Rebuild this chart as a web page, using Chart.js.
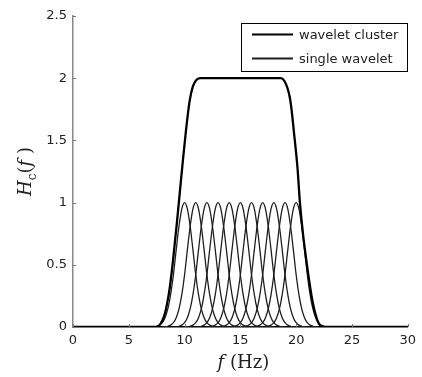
<!DOCTYPE html>
<html>
<head>
<meta charset="utf-8">
<script src="https://cdn.jsdelivr.net/npm/chart.js@4/dist/chart.umd.min.js"></script>
<style>
  html, body { margin: 0; padding: 0; background: #fff; }
  #c { display: block; }
</style>
</head>
<body>
<canvas id="c" width="422" height="377"></canvas>
<script>
// ---- Data ----
const seriesLabels = ['wavelet cluster', 'single wavelet'];

// Centres of the single wavelets (Hz)
const waveletCenters = [10, 11, 12, 13, 14, 15, 16, 17, 18, 19, 20];

// Single-wavelet profile: offset from centre (Hz) and height
const profileOffsets = [-3, -2.75, -2.5, -2.25, -2, -1.75, -1.5, -1.25, -1, -0.75, -0.5, -0.25, 0,
                        0.25, 0.5, 0.75, 1, 1.25, 1.5, 1.75, 2, 2.25, 2.5, 2.75, 3];
const profileValues  = [0, 0.002, 0.006, 0.015, 0.035, 0.075, 0.145, 0.26, 0.42, 0.62, 0.81, 0.95, 1,
                        0.95, 0.81, 0.62, 0.42, 0.26, 0.145, 0.075, 0.035, 0.015, 0.006, 0.002, 0];

// Wavelet cluster curve
const clusterFreq = [0, 7.4, 7.7, 8.0, 8.24, 8.5, 8.68, 8.97, 9.27, 9.56, 9.85, 10.15, 10.44, 10.73, 11.0, 11.4,
                     15, 18.6, 18.85, 19.1, 19.35, 19.53, 19.82, 20.12, 20.32, 20.61, 21.0, 21.44, 21.88, 22.17, 22.5, 30];
const clusterH    = [0, 0, 0.01, 0.05, 0.11, 0.22, 0.32, 0.54, 0.80, 1.07, 1.34, 1.60, 1.81, 1.93, 1.98, 2.0,
                     2.0, 2.0, 1.99, 1.95, 1.88, 1.79, 1.55, 1.28, 1.02, 0.75, 0.48, 0.22, 0.06, 0.01, 0, 0];

// Axis ranges / ticks
const xTicks = [0, 5, 10, 15, 20, 25, 30];
const yTicks = [0, 0.5, 1, 1.5, 2, 2.5];

// ---- Build datasets ----
const CLUSTER_COLOR = '#000000';
const SINGLE_COLOR = '#1e1e1e';

const datasets = [];
waveletCenters.forEach((c) => {
  datasets.push({
    label: seriesLabels[1],
    data: profileOffsets.map((o, k) => ({ x: c + o, y: profileValues[k] })),
    borderColor: SINGLE_COLOR,
    borderWidth: 1.3,
    pointRadius: 0,
    cubicInterpolationMode: 'monotone',
    fill: false,
    order: 2
  });
});
datasets.push({
  label: seriesLabels[0],
  data: clusterFreq.map((f, k) => ({ x: f, y: clusterH[k] })),
  borderColor: CLUSTER_COLOR,
  borderWidth: 2.3,
  pointRadius: 0,
  cubicInterpolationMode: 'monotone',
  fill: false,
  order: 1
});

// ---- Plugin: inward ticks, axis titles, legend box ----
const decorations = {
  id: 'decorations',
  afterDraw(chart) {
    const ctx = chart.ctx;
    const xs = chart.scales.x, ys = chart.scales.y;
    const area = chart.chartArea;
    ctx.save();
    // inward tick marks
    ctx.strokeStyle = '#777';
    ctx.lineWidth = 1;
    yTicks.forEach(v => {
      const y = Math.round(ys.getPixelForValue(v)) + 0.5;
      ctx.beginPath(); ctx.moveTo(area.left, y); ctx.lineTo(area.left + 3, y); ctx.stroke();
    });
    xTicks.forEach(v => {
      const x = Math.round(xs.getPixelForValue(v)) + 0.5;
      ctx.beginPath(); ctx.moveTo(x, area.bottom); ctx.lineTo(x, area.bottom - 3); ctx.stroke();
    });

    // x title: f (Hz)
    ctx.fillStyle = '#222';
    ctx.textBaseline = 'alphabetic';
    const fItal = 'italic 18px "DejaVu Serif"';
    const fNorm = '18px "DejaVu Serif"';
    ctx.font = fItal; const wf = ctx.measureText('f').width;
    ctx.font = fNorm; const wHz = ctx.measureText(' (Hz)').width;
    let x0 = (area.left + area.right) / 2 + 3 - (wf + wHz) / 2;
    const yb = 368;
    ctx.font = fItal; ctx.textAlign = 'left'; ctx.fillText('f', x0, yb);
    ctx.font = fNorm; ctx.fillText(' (Hz)', x0 + wf, yb);

    // y title: H_c(f) rotated
    ctx.save();
    ctx.translate(31, (area.top + area.bottom) / 2);
    ctx.rotate(-Math.PI / 2);
    const parts = [
      { t: 'H', f: 'italic 18px "DejaVu Serif"', dy: 0 },
      { t: 'c', f: '12px "DejaVu Serif"', dy: 5 },
      { t: '(', f: '18px "DejaVu Serif"', dy: 0 },
      { t: 'f', f: 'italic 18px "DejaVu Serif"', dy: 0 },
      { t: ' )', f: '18px "DejaVu Serif"', dy: 0 }
    ];
    let total = 0;
    parts.forEach(p => { ctx.font = p.f; p.w = ctx.measureText(p.t).width; total += p.w; });
    let px = -total / 2;
    parts.forEach(p => { ctx.font = p.f; ctx.fillText(p.t, px, p.dy); px += p.w; });
    ctx.restore();

    // legend box
    const bx = 241.5, by = 23.5, bw = 166, bh = 48;
    ctx.fillStyle = '#fff';
    ctx.fillRect(bx, by, bw, bh);
    ctx.strokeStyle = '#000';
    ctx.lineWidth = 1;
    ctx.strokeRect(bx, by, bw, bh);
    const entries = [
      { label: seriesLabels[0], color: CLUSTER_COLOR, w: 2, y: 34.5 },
      { label: seriesLabels[1], color: SINGLE_COLOR, w: 1.8, y: 58.5 }
    ];
    ctx.font = '13px "DejaVu Sans"';
    ctx.textBaseline = 'middle';
    entries.forEach(e => {
      ctx.strokeStyle = e.color; ctx.lineWidth = e.w;
      ctx.beginPath(); ctx.moveTo(252, e.y); ctx.lineTo(293, e.y); ctx.stroke();
      ctx.fillStyle = '#222';
      ctx.fillText(e.label, 299, e.y + 1);
    });
    ctx.restore();
  }
};

new Chart(document.getElementById('c'), {
  type: 'line',
  data: { datasets },
  options: {
    responsive: false,
    animation: false,
    events: [],
    layout: { padding: { top: 16, right: 8, left: 0, bottom: 0 } },
    plugins: { legend: { display: false }, tooltip: { enabled: false } },
    scales: {
      x: {
        type: 'linear',
        min: 0, max: 30,
        afterFit(s) { s.height = 50; },
        afterBuildTicks(s) { s.ticks = xTicks.map(v => ({ value: v })); },
        grid: { display: false, drawTicks: false },
        border: { display: true, color: '#000', width: 1.5 },
        ticks: { color: '#222', font: { family: 'DejaVu Sans', size: 13 }, padding: 6, maxRotation: 0,
                 callback: v => String(v) }
      },
      y: {
        min: 0, max: 2.5,
        afterFit(s) { s.width = 73; },
        afterBuildTicks(s) { s.ticks = yTicks.map(v => ({ value: v })); },
        grid: { display: false, drawTicks: false },
        border: { display: true, color: '#888', width: 1.5 },
        ticks: { color: '#222', font: { family: 'DejaVu Sans', size: 13 }, padding: 6,
                 callback: v => String(v) }
      }
    }
  },
  plugins: [decorations]
});
</script>
</body>
</html>
